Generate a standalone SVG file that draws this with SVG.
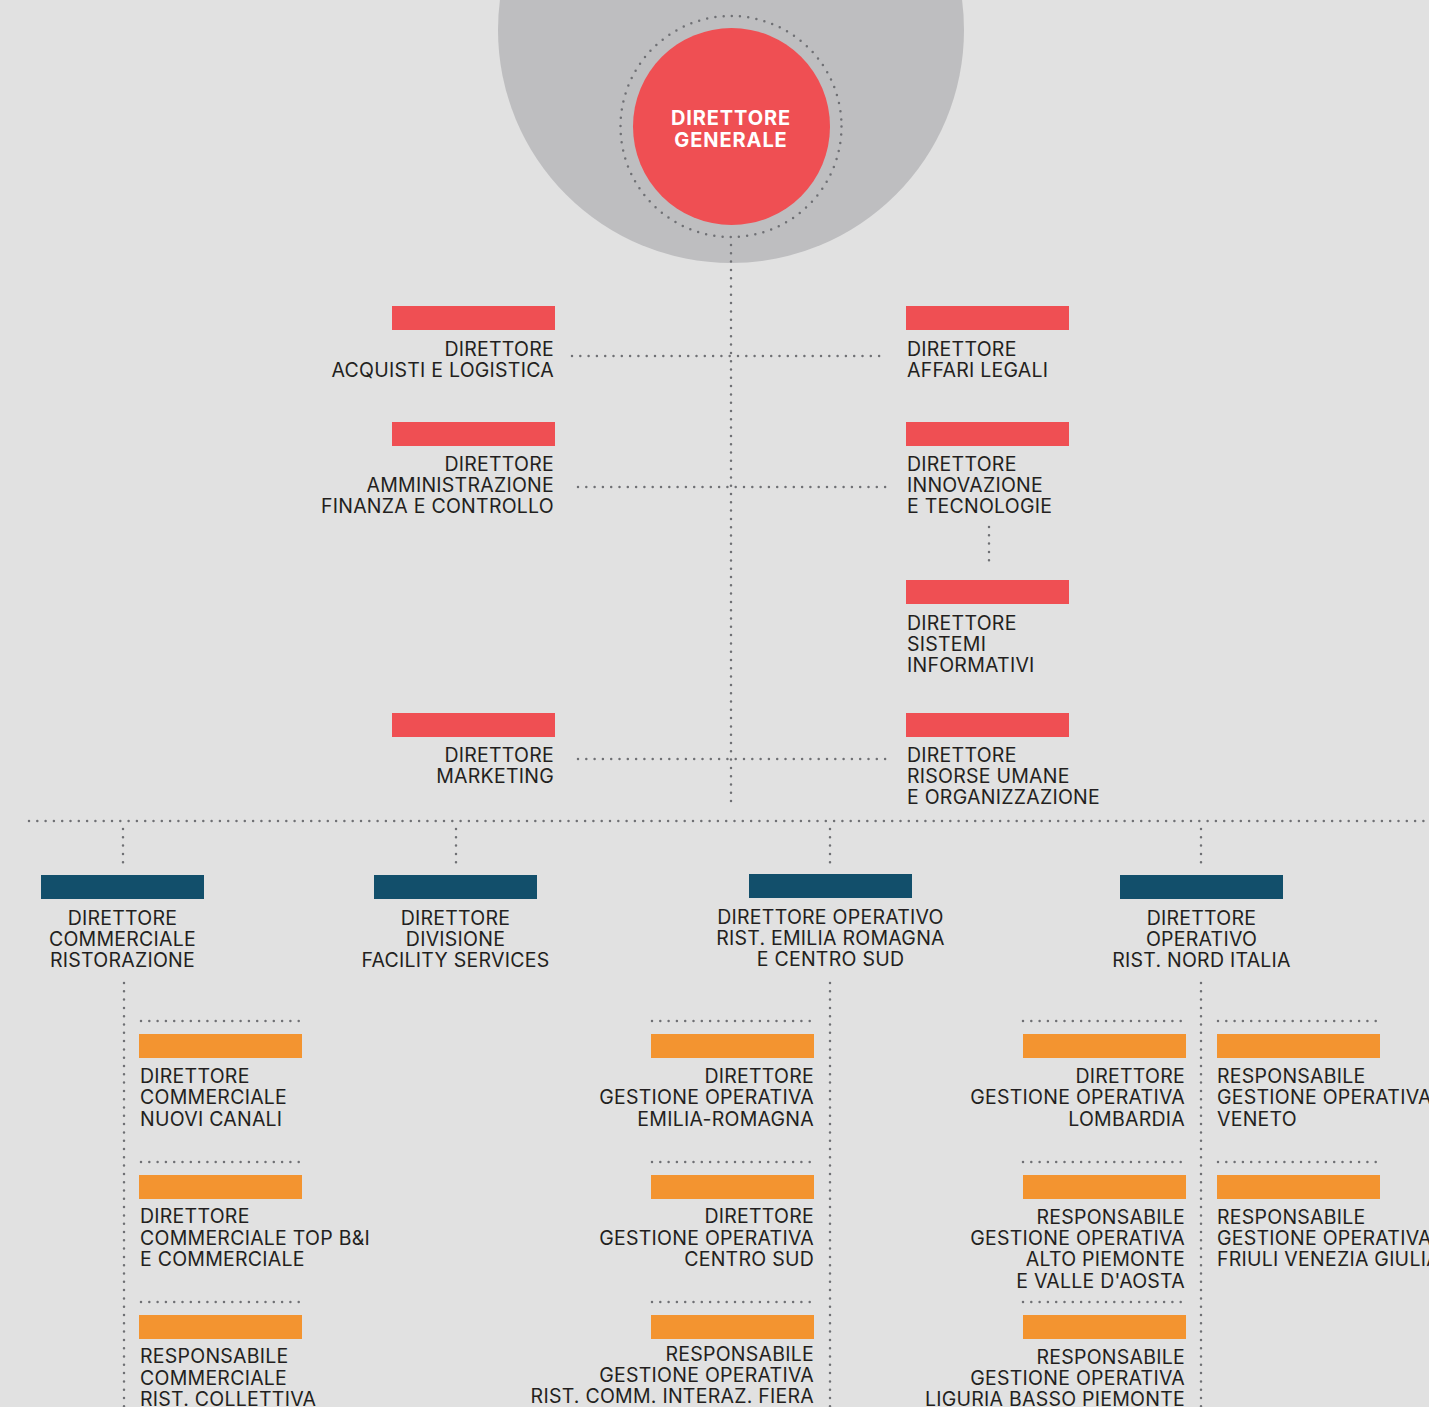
<svg xmlns="http://www.w3.org/2000/svg" width="1429" height="1407" viewBox="0 0 1429 1407">
  <defs>
    <style>
      .bg { fill: #e1e1e1; }
      .halo { fill: #bebec0; }
      .dg { fill: #ef4f53; }
      .bar-red { fill: #ef4f53; }
      .bar-blue { fill: #124f6b; }
      .bar-orange { fill: #f39430; }
      .dots { fill: none; stroke: #6f7074; stroke-width: 2.5; stroke-linecap: round; stroke-dasharray: 0 8.3; }
      text { font-family: Inter, "Liberation Sans", sans-serif; font-size: 19.5px; letter-spacing: 0.25px; fill: #231f20; }
      .r { text-anchor: end; }
      .c { text-anchor: middle; }
      .title { font-weight: 700; fill: #ffffff; font-size: 20px; letter-spacing: 0.9px; }
    </style>
  </defs>

  <rect class="bg" x="0" y="0" width="1429" height="1407"/>

  <!-- top: general director -->
  <g id="direttore-generale">
    <circle class="halo" cx="731" cy="30" r="233"/>
    <circle cx="731" cy="126.5" r="110.5" fill="none" stroke="#6f7074" stroke-width="2.5" stroke-linecap="round" stroke-dasharray="0 8.27"/>
    <circle class="dg" cx="731.5" cy="126.5" r="98.5"/>
    <text class="c title" x="731" y="125">DIRETTORE</text>
    <text class="c title" x="731" y="147">GENERALE</text>
  </g>

  <!-- connectors -->
  <g id="connectors">
    <line class="dots" x1="731" y1="245" x2="731" y2="805"/>
    <line class="dots" x1="572" y1="356" x2="886" y2="356"/>
    <line class="dots" x1="578" y1="487" x2="891" y2="487"/>
    <line class="dots" x1="578" y1="759" x2="891" y2="759"/>
    <line class="dots" x1="989" y1="527" x2="989" y2="564"/>
    <line class="dots" x1="29" y1="821" x2="1429" y2="821"/>
    <line class="dots" x1="123" y1="829" x2="123" y2="866"/>
    <line class="dots" x1="456" y1="829" x2="456" y2="866"/>
    <line class="dots" x1="830" y1="829" x2="830" y2="866"/>
    <line class="dots" x1="1201" y1="829" x2="1201" y2="866"/>
    <line class="dots" x1="124" y1="983" x2="124" y2="1410"/>
    <line class="dots" x1="830" y1="983" x2="830" y2="1410"/>
    <line class="dots" x1="1201" y1="983" x2="1201" y2="1410"/>
    <!-- short rules above orange boxes -->
    <line class="dots" x1="141" y1="1021" x2="305" y2="1021"/>
    <line class="dots" x1="141" y1="1162" x2="305" y2="1162"/>
    <line class="dots" x1="141" y1="1302" x2="305" y2="1302"/>
    <line class="dots" x1="652" y1="1021" x2="816" y2="1021"/>
    <line class="dots" x1="652" y1="1162" x2="816" y2="1162"/>
    <line class="dots" x1="652" y1="1302" x2="816" y2="1302"/>
    <line class="dots" x1="1023" y1="1021" x2="1188" y2="1021"/>
    <line class="dots" x1="1023" y1="1162" x2="1188" y2="1162"/>
    <line class="dots" x1="1023" y1="1302" x2="1188" y2="1302"/>
    <line class="dots" x1="1218" y1="1021" x2="1383" y2="1021"/>
    <line class="dots" x1="1218" y1="1162" x2="1383" y2="1162"/>
  </g>

  <!-- staff directors -->
  <g id="acquisti-logistica">
    <rect class="bar-red" x="392" y="306" width="163" height="24"/>
    <text class="r" x="554" y="356">DIRETTORE</text>
    <text class="r" x="554" y="377">ACQUISTI E LOGISTICA</text>
  </g>
  <g id="affari-legali">
    <rect class="bar-red" x="906" y="306" width="163" height="24"/>
    <text x="907" y="356">DIRETTORE</text>
    <text x="907" y="377">AFFARI LEGALI</text>
  </g>
  <g id="amministrazione">
    <rect class="bar-red" x="392" y="422" width="163" height="24"/>
    <text class="r" x="554" y="471">DIRETTORE</text>
    <text class="r" x="554" y="492">AMMINISTRAZIONE</text>
    <text class="r" x="554" y="513">FINANZA E CONTROLLO</text>
  </g>
  <g id="innovazione">
    <rect class="bar-red" x="906" y="422" width="163" height="24"/>
    <text x="907" y="471">DIRETTORE</text>
    <text x="907" y="492">INNOVAZIONE</text>
    <text x="907" y="513">E TECNOLOGIE</text>
  </g>
  <g id="sistemi-informativi">
    <rect class="bar-red" x="906" y="580" width="163" height="24"/>
    <text x="907" y="630">DIRETTORE</text>
    <text x="907" y="651">SISTEMI</text>
    <text x="907" y="672">INFORMATIVI</text>
  </g>
  <g id="marketing">
    <rect class="bar-red" x="392" y="713" width="163" height="24"/>
    <text class="r" x="554" y="762">DIRETTORE</text>
    <text class="r" x="554" y="783">MARKETING</text>
  </g>
  <g id="risorse-umane">
    <rect class="bar-red" x="906" y="713" width="163" height="24"/>
    <text x="907" y="762">DIRETTORE</text>
    <text x="907" y="783">RISORSE UMANE</text>
    <text x="907" y="804">E ORGANIZZAZIONE</text>
  </g>

  <!-- line directors -->
  <g id="commerciale-ristorazione">
    <rect class="bar-blue" x="41" y="875" width="163" height="24"/>
    <text class="c" x="122.5" y="925">DIRETTORE</text>
    <text class="c" x="122.5" y="946">COMMERCIALE</text>
    <text class="c" x="122.5" y="967">RISTORAZIONE</text>
  </g>
  <g id="facility-services">
    <rect class="bar-blue" x="374" y="875" width="163" height="24"/>
    <text class="c" x="455.5" y="925">DIRETTORE</text>
    <text class="c" x="455.5" y="946">DIVISIONE</text>
    <text class="c" x="455.5" y="967">FACILITY SERVICES</text>
  </g>
  <g id="emilia-romagna-centro-sud">
    <rect class="bar-blue" x="749" y="874" width="163" height="24"/>
    <text class="c" x="830.5" y="924">DIRETTORE OPERATIVO</text>
    <text class="c" x="830.5" y="945">RIST. EMILIA ROMAGNA</text>
    <text class="c" x="830.5" y="966">E CENTRO SUD</text>
  </g>
  <g id="nord-italia">
    <rect class="bar-blue" x="1120" y="875" width="163" height="24"/>
    <text class="c" x="1201.5" y="925">DIRETTORE</text>
    <text class="c" x="1201.5" y="946">OPERATIVO</text>
    <text class="c" x="1201.5" y="967">RIST. NORD ITALIA</text>
  </g>

  <!-- commercial sub-units -->
  <g id="nuovi-canali">
    <rect class="bar-orange" x="139" y="1034" width="163" height="24"/>
    <text x="140" y="1083">DIRETTORE</text>
    <text x="140" y="1104">COMMERCIALE</text>
    <text x="140" y="1126">NUOVI CANALI</text>
  </g>
  <g id="top-bi">
    <rect class="bar-orange" x="139" y="1175" width="163" height="24"/>
    <text x="140" y="1223">DIRETTORE</text>
    <text x="140" y="1245">COMMERCIALE TOP B&amp;I</text>
    <text x="140" y="1266">E COMMERCIALE</text>
  </g>
  <g id="rist-collettiva">
    <rect class="bar-orange" x="139" y="1315" width="163" height="24"/>
    <text x="140" y="1363">RESPONSABILE</text>
    <text x="140" y="1385">COMMERCIALE</text>
    <text x="140" y="1406">RIST. COLLETTIVA</text>
  </g>

  <!-- emilia romagna / centro sud sub-units -->
  <g id="go-emilia-romagna">
    <rect class="bar-orange" x="651" y="1034" width="163" height="24"/>
    <text class="r" x="814" y="1083">DIRETTORE</text>
    <text class="r" x="814" y="1104">GESTIONE OPERATIVA</text>
    <text class="r" x="814" y="1126">EMILIA-ROMAGNA</text>
  </g>
  <g id="go-centro-sud">
    <rect class="bar-orange" x="651" y="1175" width="163" height="24"/>
    <text class="r" x="814" y="1223">DIRETTORE</text>
    <text class="r" x="814" y="1245">GESTIONE OPERATIVA</text>
    <text class="r" x="814" y="1266">CENTRO SUD</text>
  </g>
  <g id="go-fiera">
    <rect class="bar-orange" x="651" y="1315" width="163" height="24"/>
    <text class="r" x="814" y="1361">RESPONSABILE</text>
    <text class="r" x="814" y="1382">GESTIONE OPERATIVA</text>
    <text class="r" x="814" y="1403">RIST. COMM. INTERAZ. FIERA</text>
  </g>

  <!-- nord italia sub-units -->
  <g id="go-lombardia">
    <rect class="bar-orange" x="1023" y="1034" width="163" height="24"/>
    <text class="r" x="1185" y="1083">DIRETTORE</text>
    <text class="r" x="1185" y="1104">GESTIONE OPERATIVA</text>
    <text class="r" x="1185" y="1126">LOMBARDIA</text>
  </g>
  <g id="go-alto-piemonte">
    <rect class="bar-orange" x="1023" y="1175" width="163" height="24"/>
    <text class="r" x="1185" y="1224">RESPONSABILE</text>
    <text class="r" x="1185" y="1245">GESTIONE OPERATIVA</text>
    <text class="r" x="1185" y="1266">ALTO PIEMONTE</text>
    <text class="r" x="1185" y="1288">E VALLE D'AOSTA</text>
  </g>
  <g id="go-liguria">
    <rect class="bar-orange" x="1023" y="1315" width="163" height="24"/>
    <text class="r" x="1185" y="1364">RESPONSABILE</text>
    <text class="r" x="1185" y="1385">GESTIONE OPERATIVA</text>
    <text class="r" x="1185" y="1406">LIGURIA BASSO PIEMONTE</text>
  </g>
  <g id="go-veneto">
    <rect class="bar-orange" x="1217" y="1034" width="163" height="24"/>
    <text x="1217" y="1083">RESPONSABILE</text>
    <text x="1217" y="1104">GESTIONE OPERATIVA</text>
    <text x="1217" y="1126">VENETO</text>
  </g>
  <g id="go-friuli">
    <rect class="bar-orange" x="1217" y="1175" width="163" height="24"/>
    <text x="1217" y="1224">RESPONSABILE</text>
    <text x="1217" y="1245">GESTIONE OPERATIVA</text>
    <text x="1217" y="1266">FRIULI VENEZIA GIULIA</text>
  </g>
</svg>
